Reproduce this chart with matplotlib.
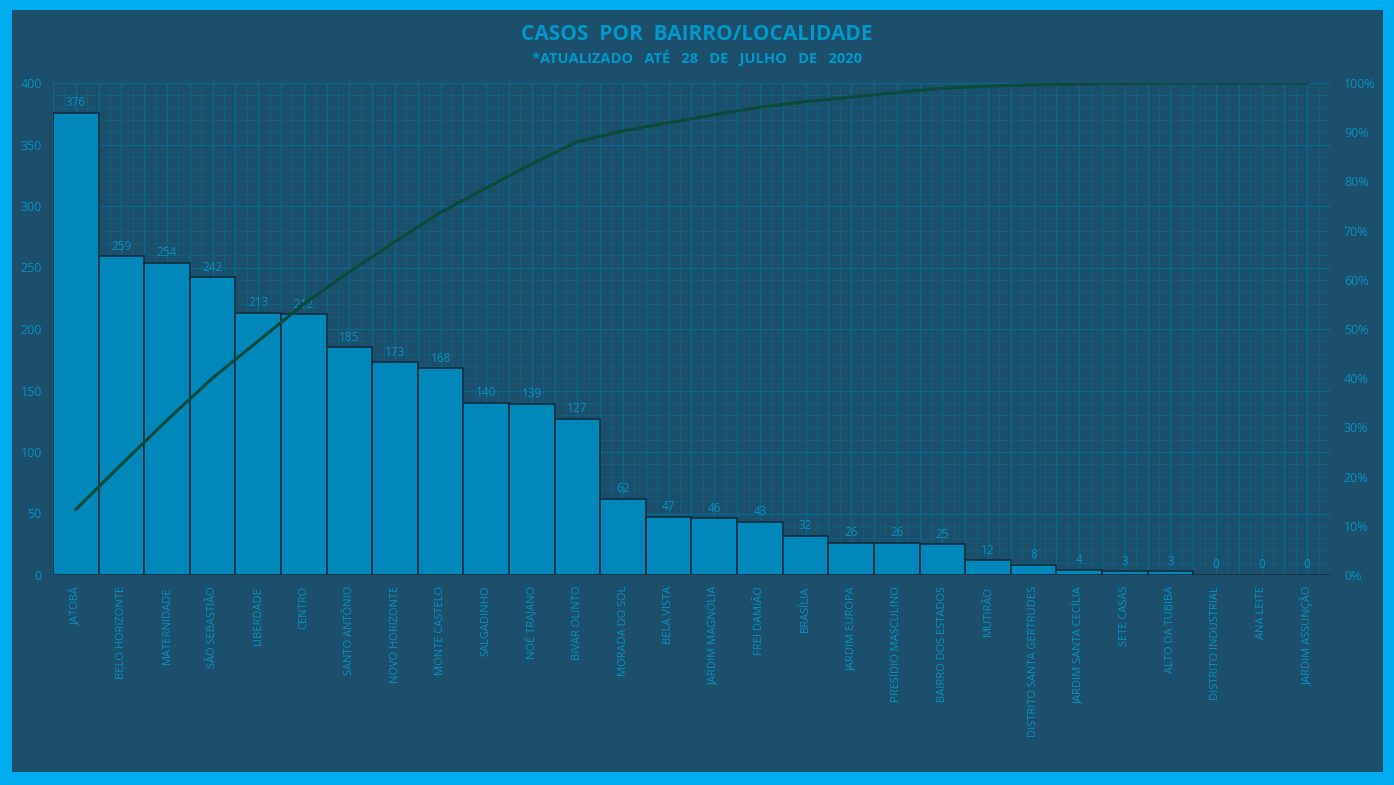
import numpy as np
import matplotlib.pyplot as plt
from matplotlib.patches import Rectangle
from matplotlib.ticker import MultipleLocator, FuncFormatter

plt.rcParams['font.family'] = ['Open Sans', 'DejaVu Sans']

# Data
bairros = ['JATOBÁ', 'BELO HORIZONTE', 'MATERNIDADE', 'SÃO SEBASTIÃO', 'LIBERDADE',
           'CENTRO', 'SANTO ANTÔNIO', 'NOVO HORIZONTE', 'MONTE CASTELO', 'SALGADINHO',
           'NOÉ TRAJANO', 'BIVAR OLINTO', 'MORADA DO SOL', 'BELA VISTA',
           'JARDIM MAGNÓLIA', 'FREI DAMIÃO', 'BRASÍLIA', 'JARDIM EUROPA',
           'PRESÍDIO MASCULINO', 'BAIRRO DOS ESTADOS', 'MUTIRÃO',
           'DISTRITO SANTA GERTRUDES', 'JARDIM SANTA CECÍLIA', 'SETE CASAS',
           'ALTO DA TUBIBA', 'DISTRITO INDUSTRIAL', 'ANA LEITE', 'JARDIM ASSUNÇÃO']
casos = [376, 259, 254, 242, 213, 212, 185, 173, 168, 140, 139, 127, 62, 47,
         46, 43, 32, 26, 26, 25, 12, 8, 4, 3, 3, 0, 0, 0]

# Pareto cumulative share
acumulado = np.cumsum(casos) / np.sum(casos) * 100

border = '#00aeef'
bg = '#1b4f6b'
bar_color = '#0088bb'
edge = '#142c3c'
txt = '#0a90c2'
grid_major = '#08698c'
grid_minor = '#135d7d'
line_color = '#0c4a3a'

fig = plt.figure(figsize=(13.94, 7.85), dpi=100)
fig.patch.set_facecolor(border)
fig.patches.append(Rectangle((12 / 1394, 13 / 785), 1371 / 1394, 762 / 785,
                             transform=fig.transFigure, facecolor=bg,
                             edgecolor='none', zorder=-10))

ax = fig.add_axes([53 / 1394, 210 / 785, 1277 / 1394, 492 / 785])
ax.set_facecolor(bg)
x = np.arange(len(casos))
ax.bar(x, casos, width=1.0, color=bar_color, edgecolor=edge, linewidth=1.2, zorder=3)
for xi, v in zip(x, casos):
    ax.text(xi, v + 3, str(v), ha='center', va='bottom', color=txt, fontsize=8.5, zorder=4)

ax.set_xlim(-0.5, len(casos) - 0.5)
ax.set_ylim(0, 400)
ax.yaxis.set_major_locator(MultipleLocator(50))
ax.set_xticks(x)
ax.set_xticklabels(bairros, rotation=90, fontsize=8, color=txt)
ax.tick_params(axis='both', length=0, which='both', pad=8)
ax.tick_params(axis='y', labelsize=9, labelcolor=txt)
for s in ax.spines.values():
    s.set_visible(False)

# grid: half-category major lines, quarter minor
for gx in np.arange(-0.5, len(casos), 0.5):
    ax.axvline(gx, color=grid_major, lw=1.0, zorder=1)
for gx in np.arange(-0.25, len(casos), 0.5):
    ax.axvline(gx, color=grid_minor, lw=0.8, zorder=1)
for gy in range(0, 401, 50):
    ax.axhline(gy, color=grid_major, lw=1.0, zorder=1)
for gy in range(0, 401, 10):
    if gy % 50:
        ax.axhline(gy, color=grid_minor, lw=0.8, zorder=1)

ax2 = ax.twinx()
ax2.plot(x, acumulado, color=line_color, lw=2.2, zorder=5)
ax2.set_ylim(0, 100)
ax2.yaxis.set_major_locator(MultipleLocator(10))
ax2.yaxis.set_major_formatter(FuncFormatter(lambda v, p: f'{v:.0f}%'))
ax2.tick_params(axis='y', length=0, labelsize=9, labelcolor=txt, pad=10)
for s in ax2.spines.values():
    s.set_visible(False)

fig.text(0.5, 751 / 785, 'CASOS  POR  BAIRRO/LOCALIDADE', ha='center', va='center',
         color='#0099cc', fontsize=15, fontweight='bold')
fig.text(0.5, 727 / 785, '*ATUALIZADO   ATÉ   28   DE   JULHO   DE   2020', ha='center',
         va='center', color='#0099cc', fontsize=10.5, fontweight='bold')

fig.savefig('out.png', dpi=100, facecolor=fig.get_facecolor())
